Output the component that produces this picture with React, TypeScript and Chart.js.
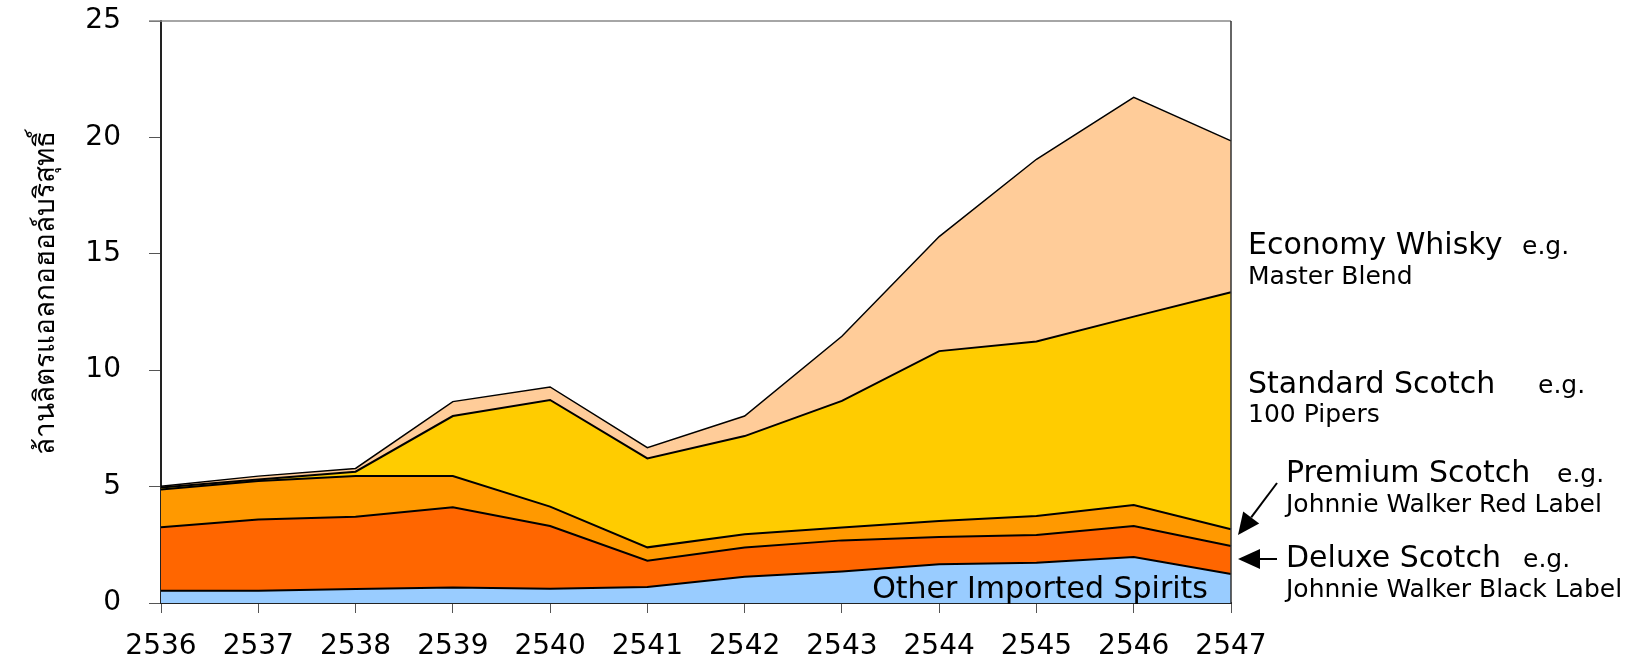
import React, { useEffect, useRef } from "react";
import { Chart, registerables } from "chart.js";

Chart.register(...registerables);

const years = ["2536", "2537", "2538", "2539", "2540", "2541", "2542", "2543", "2544", "2545", "2546", "2547"];
const otherImported = [0.53, 0.53, 0.6, 0.67, 0.61, 0.69, 1.13, 1.35, 1.66, 1.73, 1.98, 1.25];
const deluxeScotch = [2.72, 3.06, 3.11, 3.44, 2.7, 1.13, 1.25, 1.34, 1.18, 1.19, 1.33, 1.2];
const premiumScotch = [1.63, 1.65, 1.74, 1.34, 0.83, 0.57, 0.57, 0.55, 0.68, 0.82, 0.9, 0.72];
const standardScotch = [0.08, 0.06, 0.19, 2.58, 4.58, 3.82, 4.22, 5.44, 7.3, 7.49, 8.09, 10.18];
const economyWhisky = [0.06, 0.15, 0.14, 0.62, 0.56, 0.46, 0.86, 2.78, 4.92, 7.83, 9.42, 6.5];
const yTicks = [0, 5, 10, 15, 20, 25];

const yTitle = "ล้านลิตรแอลกอฮอล์บริสุทธิ์";
const FONT = "'DejaVu Sans', 'Liberation Sans', sans-serif";

function arrow(ctx: CanvasRenderingContext2D, x1: number, y1: number, x2: number, y2: number) {
  const ang = Math.atan2(y2 - y1, x2 - x1);
  const len = 22;
  const hw = 10;
  const bx = x2 - len * Math.cos(ang);
  const by = y2 - len * Math.sin(ang);
  ctx.beginPath();
  ctx.moveTo(x1, y1);
  ctx.lineTo(bx, by);
  ctx.lineWidth = 2;
  ctx.strokeStyle = "#000";
  ctx.stroke();
  ctx.beginPath();
  ctx.moveTo(x2, y2);
  ctx.lineTo(bx + hw * Math.sin(ang), by - hw * Math.cos(ang));
  ctx.lineTo(bx - hw * Math.sin(ang), by + hw * Math.cos(ang));
  ctx.closePath();
  ctx.fillStyle = "#000";
  ctx.fill();
}

const annotations = {
  id: "annotations",
  afterDraw(chart: any) {
    const ctx = chart.ctx as CanvasRenderingContext2D;
    const a = chart.chartArea;
    ctx.save();
    // frame
    ctx.strokeStyle = "#888";
    ctx.lineWidth = 1.5;
    ctx.beginPath();
    ctx.moveTo(a.left - 12, a.top);
    ctx.lineTo(a.right, a.top);
    ctx.stroke();
    ctx.strokeStyle = "#333";
    ctx.beginPath();
    ctx.moveTo(a.right, a.top);
    ctx.lineTo(a.right, a.bottom);
    ctx.stroke();

    // y title
    ctx.save();
    ctx.translate(54, 293);
    ctx.rotate(-Math.PI / 2);
    ctx.font = `28px ${FONT}`;
    ctx.fillStyle = "#000";
    ctx.textAlign = "center";
    ctx.textBaseline = "alphabetic";
    ctx.fillText(yTitle, 0, 0);
    ctx.restore();

    ctx.fillStyle = "#000";
    ctx.textAlign = "left";
    ctx.textBaseline = "alphabetic";
    const big = `30px ${FONT}`;
    const small = `25px ${FONT}`;
    ctx.font = big;
    ctx.fillText("Economy Whisky", 1248, 254);
    ctx.font = small;
    ctx.fillText("e.g.", 1522, 254);
    ctx.fillText("Master Blend", 1248, 284);

    ctx.font = big;
    ctx.fillText("Standard Scotch", 1248, 393);
    ctx.font = small;
    ctx.fillText("e.g.", 1538, 393);
    ctx.fillText("100 Pipers", 1248, 422);

    ctx.font = big;
    ctx.fillText("Premium Scotch", 1286, 482);
    ctx.font = small;
    ctx.fillText("e.g.", 1557, 482);
    ctx.fillText("Johnnie Walker Red Label", 1286, 512);

    ctx.font = big;
    ctx.fillText("Deluxe Scotch", 1286, 567);
    ctx.font = small;
    ctx.fillText("e.g.", 1523, 567);
    ctx.fillText("Johnnie Walker Black Label", 1286, 597);

    arrow(ctx, 1277, 483, 1238, 535);
    arrow(ctx, 1277, 559, 1238, 559);

    // in-chart label
    ctx.font = big;
    ctx.textAlign = "right";
    ctx.fillText("Other Imported Spirits", 1208, 598);
    ctx.restore();
  },
};

export default function App() {
  const ref = useRef<HTMLCanvasElement | null>(null);
  useEffect(() => {
    document.body.style.margin = "0";
    if (!ref.current) return;
    const mk = (label: string, data: number[], color: string, fill: any, bw: number) => ({
      label,
      data,
      backgroundColor: color,
      borderColor: "#000",
      borderWidth: bw,
      fill,
      pointRadius: 0,
      tension: 0,
    });
    const chart = new Chart(ref.current, {
      type: "line",
      data: {
        labels: years,
        datasets: [
          mk("Other Imported Spirits", otherImported, "#99CCFF", "origin", 2),
          mk("Deluxe Scotch", deluxeScotch, "#FF6600", "-1", 2),
          mk("Premium Scotch", premiumScotch, "#FF9900", "-1", 2),
          mk("Standard Scotch", standardScotch, "#FFCC00", "-1", 2),
          mk("Economy Whisky", economyWhisky, "#FFCC99", "-1", 1.5),
        ],
      },
      options: {
        animation: false,
        responsive: true,
        maintainAspectRatio: false,
        layout: { padding: { top: 21, right: 410, left: 0, bottom: 0 } },
        plugins: { legend: { display: false }, tooltip: { enabled: false } },
        scales: {
          x: {
            stacked: true,
            offset: false,
            grid: { drawOnChartArea: false, drawTicks: true, tickLength: 10, color: "#555" },
            border: { display: true, color: "#222", width: 2 },
            ticks: { color: "#000", font: { family: FONT, size: 28 }, padding: 17, maxRotation: 0, autoSkip: false },
            afterFit: (s: any) => {
              s.height = 57;
            },
          },
          y: {
            stacked: true,
            min: 0,
            max: 25,
            afterBuildTicks: (s: any) => {
              s.ticks = yTicks.map((v) => ({ value: v }));
            },
            grid: { drawOnChartArea: false, drawTicks: true, tickLength: 12, color: "#555" },
            border: { display: true, color: "#222", width: 2 },
            ticks: { color: "#000", font: { family: FONT, size: 28 }, padding: 28 },
            afterFit: (s: any) => {
              s.width = 161;
              s.paddingTop = 0;
              s.paddingBottom = 0;
            },
          },
        },
      },
      plugins: [annotations],
    });
    return () => chart.destroy();
  }, []);
  return (
    <div style={{ position: "absolute", left: 0, top: 0, width: 1641, height: 660 }}>
      <canvas ref={ref} />
    </div>
  );
}
